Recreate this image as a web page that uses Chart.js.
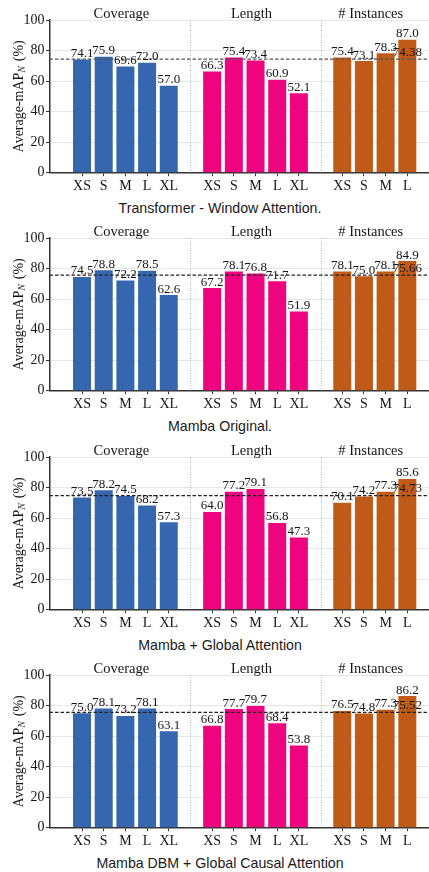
<!DOCTYPE html>
<html>
<head>
<meta charset="utf-8">
<script src="https://cdn.jsdelivr.net/npm/chart.js@4/dist/chart.umd.min.js"></script>
<style>
  html, body { margin: 0; padding: 0; background: #ffffff; }
  body { width: 429px; height: 872px; position: relative; overflow: hidden; }
  .panel { position: absolute; left: 0; width: 429px; height: 196px; }
  .caption { position: absolute; left: 0; width: 440px; text-align: center;
             font-family: "Liberation Sans", Arial, sans-serif; font-size: 14.2px; color: #1a1a1a; line-height: 16px; }
</style>
</head>
<body>
<script>
// ---------------- DATA ----------------
const coverageLabels  = ['XS', 'S', 'M', 'L', 'XL'];
const lengthLabels    = ['XS', 'S', 'M', 'L', 'XL'];
const instanceLabels  = ['XS', 'S', 'M', 'L'];
const groupNames = ['Coverage', 'Length', '# Instances'];
const yTicks = [0, 20, 40, 60, 80, 100];

const captions = [
  'Transformer - Window Attention.',
  'Mamba Original.',
  'Mamba + Global Attention',
  'Mamba DBM + Global Causal Attention'
];

const transformerCoverage = [74.1, 75.9, 69.6, 72.0, 57.0];
const transformerLength   = [66.3, 75.4, 73.4, 60.9, 52.1];
const transformerInstances = [75.4, 73.1, 78.3, 87.0];
const transformerAverage = 74.38;

const mambaCoverage = [74.5, 78.8, 72.2, 78.5, 62.6];
const mambaLength   = [67.2, 78.1, 76.8, 71.7, 51.9];
const mambaInstances = [78.1, 75.0, 78.1, 84.9];
const mambaAverage = 75.66;

const mambaGlobalCoverage = [73.5, 78.2, 74.5, 68.2, 57.3];
const mambaGlobalLength   = [64.0, 77.2, 79.1, 56.8, 47.3];
const mambaGlobalInstances = [70.1, 74.2, 77.3, 85.6];
const mambaGlobalAverage = 74.73;

const dbmCoverage = [75.0, 78.1, 73.2, 78.1, 63.1];
const dbmLength   = [66.8, 77.7, 79.7, 68.4, 53.8];
const dbmInstances = [76.5, 74.8, 77.3, 86.2];
const dbmAverage = 75.52;

const panels = [
  { cov: transformerCoverage, len: transformerLength, inst: transformerInstances, avg: transformerAverage, avgText: '74.38', avgColor: '#555' },
  { cov: mambaCoverage, len: mambaLength, inst: mambaInstances, avg: mambaAverage, avgText: '75.66', avgColor: '#222' },
  { cov: mambaGlobalCoverage, len: mambaGlobalLength, inst: mambaGlobalInstances, avg: mambaGlobalAverage, avgText: '74.73', avgColor: '#222' },
  { cov: dbmCoverage, len: dbmLength, inst: dbmInstances, avg: dbmAverage, avgText: '75.52', avgColor: '#222' }
];

// ---------------- STYLE / LAYOUT ----------------
const colors = ['#3667ae', '#ee047f', '#c05a18'];
const SERIF = '"Liberation Serif", "DejaVu Serif", serif';
const TEXT = '#151515';
const panelTops = [0, 218.3, 436.7, 655];
const groupLabelSets = [coverageLabels, lengthLabels, instanceLabels];

// slot layout: each group occupies consecutive slots with one empty slot between groups
const groupStarts = [];
{
  let s = 0;
  groupLabelSets.forEach(g => { groupStarts.push(s); s += g.length + 1; });
}
const xPositions = [];
const xTickText = [];
groupLabelSets.forEach((g, gi) => g.forEach((lab, i) => { xPositions.push(groupStarts[gi] + i); xTickText.push(lab); }));
const separators = groupStarts.slice(1).map(s => s - 1);

const overlay = {
  id: 'overlay',
  afterDatasetsDraw(chart, args, opts) {
    const { ctx, chartArea: ca, scales: { x, y } } = chart;
    ctx.save();
    // separators
    ctx.strokeStyle = '#b5b5b5';
    ctx.lineWidth = 1;
    ctx.setLineDash([1, 1.5]);
    separators.forEach(s => {
      const px = Math.round(x.getPixelForValue(s)) + 0.5;
      ctx.beginPath(); ctx.moveTo(px, ca.top); ctx.lineTo(px, ca.bottom); ctx.stroke();
    });
    // average dashed line
    const ay = y.getPixelForValue(opts.avg);
    ctx.strokeStyle = opts.avgColor;
    ctx.lineWidth = 1.3;
    ctx.setLineDash([3.5, 2]);
    ctx.beginPath(); ctx.moveTo(ca.left, ay); ctx.lineTo(ca.right, ay); ctx.stroke();
    ctx.setLineDash([]);
    // value labels
    ctx.fillStyle = TEXT;
    ctx.font = '13px ' + SERIF;
    ctx.textAlign = 'center';
    ctx.textBaseline = 'alphabetic';
    chart.data.datasets.forEach((ds, di) => {
      const meta = chart.getDatasetMeta(di);
      meta.data.forEach((bar, i) => {
        ctx.fillText(ds.data[i].y.toFixed(1), bar.x, bar.y - 2.5);
      });
    });
    // average label at the last bar
    const lastX = x.getPixelForValue(xPositions[xPositions.length - 1]);
    ctx.fillText(opts.avgText, lastX, ay - 3.5);
    // group titles
    ctx.font = '14.5px ' + SERIF;
    groupLabelSets.forEach((g, gi) => {
      const c = groupStarts[gi] + (g.length - 1) / 2;
      ctx.fillText(groupNames[gi], x.getPixelForValue(c) - 4, ca.top - 2.5);
    });
    // y title with subscript
    ctx.translate(17.5, (ca.top + ca.bottom) / 2);
    ctx.rotate(-Math.PI / 2);
    const p1 = 'Average-mAP', p3 = '(%)';
    ctx.font = '14px ' + SERIF;
    const w1 = ctx.measureText(p1).width;
    const w3 = ctx.measureText(p3).width;
    ctx.font = 'italic 9.5px ' + SERIF;
    const w2 = ctx.measureText('N').width;
    const gap = 5;
    const total = w1 + w2 + gap + w3;
    let cx = -total / 2;
    ctx.textAlign = 'left';
    ctx.textBaseline = 'alphabetic';
    ctx.font = '14px ' + SERIF;
    ctx.fillText(p1, cx, 5); cx += w1;
    ctx.font = 'italic 9.5px ' + SERIF;
    ctx.fillText('N', cx, 7.5); cx += w2 + gap;
    ctx.font = '14px ' + SERIF;
    ctx.fillText(p3, cx, 5);
    ctx.restore();
  }
};

panels.forEach((p, pi) => {
  const div = document.createElement('div');
  div.className = 'panel';
  div.style.top = panelTops[pi] + 'px';
  const cv = document.createElement('canvas');
  cv.width = 429; cv.height = 196;
  cv.style.width = '429px'; cv.style.height = '196px';
  div.appendChild(cv);
  document.body.appendChild(div);

  const cap = document.createElement('div');
  cap.className = 'caption';
  cap.style.top = (panelTops[pi] + 200) + 'px';
  cap.textContent = captions[pi];
  document.body.appendChild(cap);

  const series = [p.cov, p.len, p.inst];
  const datasets = series.map((vals, gi) => ({
    data: vals.map((v, i) => ({ x: groupStarts[gi] + i, y: v })),
    backgroundColor: colors[gi],
    borderWidth: 0,
    barPercentage: 0.83,
    categoryPercentage: 1,
    grouped: false
  }));

  new Chart(cv, {
    type: 'bar',
    data: { datasets },
    options: {
      responsive: false,
      animation: false,
      devicePixelRatio: 1,
      layout: { padding: { top: 20, left: 0, right: 0, bottom: 0 } },
      plugins: { legend: { display: false }, tooltip: { enabled: false }, overlay: { avg: p.avg, avgText: p.avgText, avgColor: p.avgColor } },
      scales: {
        x: {
          type: 'linear',
          offset: false,
          min: -1.5,
          max: 16,
          afterBuildTicks: s => { s.ticks = xPositions.map(v => ({ value: v })); },
          afterFit: s => { s.height = 23.3; },
          ticks: {
            autoSkip: false, maxRotation: 0, padding: 2,
            color: TEXT, font: { family: SERIF, size: 14 },
            callback: (v, i) => xTickText[i]
          },
          grid: { display: true, offset: false, drawOnChartArea: false, drawTicks: true, tickLength: 3.5, tickColor: '#333', tickWidth: 1 },
          border: { display: true, color: '#333', width: 1.5 }
        },
        y: {
          min: 0, max: 100,
          afterBuildTicks: s => { s.ticks = yTicks.map(v => ({ value: v })); },
          afterFit: s => { s.width = 49.5; },
          ticks: { padding: 1.5, color: TEXT, font: { family: SERIF, size: 14 } },
          grid: { color: '#e6e6e6', lineWidth: 1, drawTicks: true, tickLength: 3.5, tickColor: '#333', tickWidth: 1 },
          border: { display: true, color: '#333', width: 1.5 }
        }
      }
    },
    plugins: [overlay]
  });
});
</script>
</body>
</html>
